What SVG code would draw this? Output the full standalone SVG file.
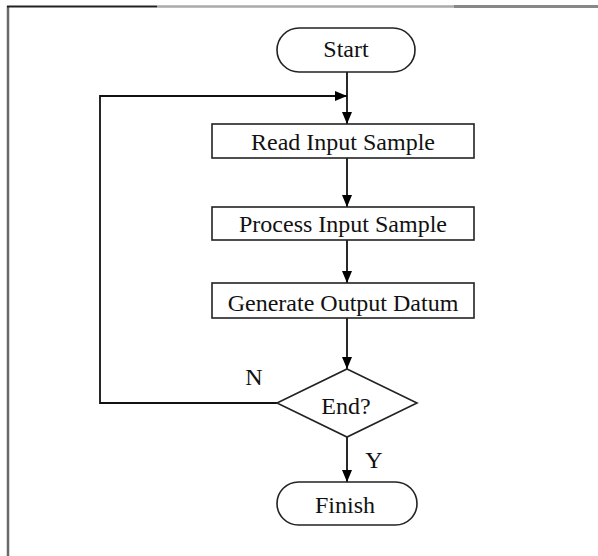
<svg xmlns="http://www.w3.org/2000/svg" width="598" height="556" viewBox="0 0 598 556">
<style>
.node{fill:#fff;stroke:#222;stroke-width:1.6}
.lbl{font-family:"Liberation Serif","Times New Roman",serif;font-size:24px;fill:#111;text-anchor:middle}
.edge{fill:none;stroke:#111;stroke-width:1.8}
</style>
<defs>
<marker id="arr" viewBox="0 0 12 10" refX="12" refY="5" markerWidth="12" markerHeight="10" markerUnits="userSpaceOnUse" orient="auto">
<path d="M0,0 L12,5 L0,10 Z" fill="#000"/>
</marker>
</defs>
<rect width="598" height="556" fill="#fff"/>
<g id="frame">
<line x1="8" y1="6" x2="8" y2="556" stroke="#6a6a6a" stroke-width="2.5"/>
<line x1="7" y1="6.5" x2="157" y2="6.5" stroke="#222" stroke-width="1.8"/>
<line x1="157" y1="6.5" x2="454" y2="6.5" stroke="#aaa" stroke-width="2.5"/>
<line x1="454" y1="6.5" x2="598" y2="6.5" stroke="#888" stroke-width="3"/>
</g>
<g id="connectors">
<path class="edge" d="M347,72 V124" marker-end="url(#arr)"/>
<path class="edge" d="M277,403 H100 V96 H347" marker-end="url(#arr)"/>
<path class="edge" d="M347,158 V207" marker-end="url(#arr)"/>
<path class="edge" d="M347,240 V283" marker-end="url(#arr)"/>
<path class="edge" d="M347,318 V369" marker-end="url(#arr)"/>
<path class="edge" d="M347,437 V482" marker-end="url(#arr)"/>
<text class="lbl" x="254" y="385">N</text>
<text class="lbl" x="374" y="468">Y</text>
</g>
<g id="start">
<rect class="node" x="277" y="28" width="138" height="44" rx="22" ry="22"/>
<text class="lbl" x="346" y="57">Start</text>
</g>
<g id="read">
<rect class="node" x="212" y="124" width="262" height="34"/>
<text class="lbl" x="343" y="150">Read Input Sample</text>
</g>
<g id="process">
<rect class="node" x="212" y="207" width="262" height="33"/>
<text class="lbl" x="343" y="232">Process Input Sample</text>
</g>
<g id="generate">
<rect class="node" x="212" y="283" width="262" height="35"/>
<text class="lbl" x="343" y="311">Generate Output Datum</text>
</g>
<g id="end">
<polygon class="node" points="347,369 417,403 347,437 277,403"/>
<text class="lbl" x="346" y="414">End?</text>
</g>
<g id="finish">
<rect class="node" x="277" y="482" width="140" height="43" rx="21.5" ry="21.5"/>
<text class="lbl" x="345" y="513">Finish</text>
</g>
</svg>
